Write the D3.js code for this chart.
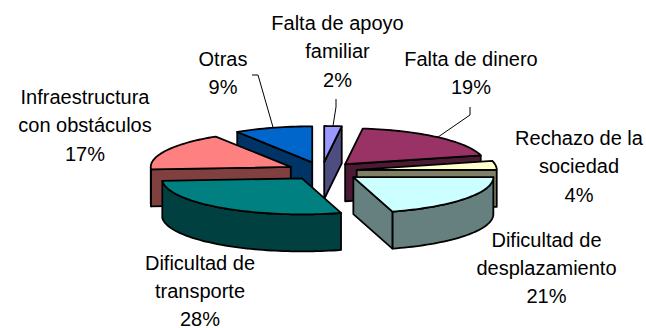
<!DOCTYPE html>
<html><head><meta charset="utf-8">
<script src="https://cdn.jsdelivr.net/npm/d3@7"></script>
<style>html,body{margin:0;padding:0;background:#fff}svg{display:block}text{font-family:"Liberation Sans",Arial,sans-serif;font-size:20px;fill:#000}</style>
</head><body><svg id="c" width="646" height="328"></svg>
<script>
const categories=["Falta de dinero","Rechazo de la sociedad","Dificultad de desplazamiento","Dificultad de transporte","Infraestructura con obstáculos","Otras","Falta de apoyo familiar"];
const values=[19,4,20.5,28.4,17.1,9,2];
const topColors=["#993366","#FFFFCC","#CCFFFF","#008080","#FF8080","#0066CC","#9999FF"];
const sideColors=["#4D1A33","#808066","#668080","#004040","#804040","#003366","#4D4D80"];
const labelLines=[["Falta de dinero","19%"],["Rechazo de la","sociedad","4%"],["Dificultad de","desplazamiento","21%"],["Dificultad de","transporte","28%"],["Infraestructura","con obstáculos","17%"],["Otras","9%"],["Falta de apoyo","familiar","2%"]];
const labelCenters=[[471,66],[579,145],[546.5,246.5],[200,269.5],[85,104],[223,66],[337.5,30]];
const lineStep=28.3;
const leaderStarts=[[[470,107],[470,115]],null,null,null,null,[[252,75],[258,75]],[[336,99],[336,107]]];
const explodes=[0.25,0.25,0.28,0.25,0.25,0.25,0.25];

const cx=322,cy=171,rx=140,ry=36,depth=37;
const svg=d3.select("#c");
const start=7.2*Math.PI/180;
const arcs=d3.pie().sort(null).startAngle(start).endAngle(start+2*Math.PI)(values);
const line=d3.line();
const proj=(a,r=1)=>[Math.sin(a)*rx*r,-Math.cos(a)*ry*r];
const slices=arcs.map((d,i)=>{
  const mid=(d.startAngle+d.endAngle)/2,[ex,ey]=proj(mid,explodes[i]);
  const ax=cx+ex,ay=cy+ey;
  const n=Math.max(4,Math.ceil((d.endAngle-d.startAngle)/0.03));
  const arcPts=d3.range(n+1).map(k=>{const a=d.startAngle+(d.endAngle-d.startAngle)*k/n,[x,y]=proj(a);return [ax+x,ay+y];});
  return {i,mid,apex:[ax,ay],arcPts};
});
function ribbon(pts){
  const run=pts.concat(pts.slice().reverse().map(p=>[p[0],p[1]+depth]));
  return line(run)+"Z";
}
function visibleRuns(pts){
  const runs=[];let cur=null;
  for(let k=0;k<pts.length-1;k++){
    if(pts[k+1][0]-pts[k][0]<-1e-6){
      if(!cur){cur=[pts[k]];runs.push(cur);}
      cur.push(pts[k+1]);
    } else cur=null;
  }
  return runs;
}
const drawOrder=[5,6,4,0,1,2,3].map(i=>slices[i]);
drawOrder.forEach(s=>{
  const g=svg.append("g");
  const walls=[[s.apex,s.arcPts[0]],s.arcPts,[s.arcPts[s.arcPts.length-1],s.apex]];
  walls.forEach(w=>visibleRuns(w).forEach(r=>{
    g.append("path").attr("d",ribbon(r)).attr("fill",sideColors[s.i]).attr("stroke","#000").attr("stroke-width",1.8).attr("stroke-linejoin","round");
  }));
  g.append("path").attr("d",line([s.apex,...s.arcPts])+"Z").attr("fill",topColors[s.i]).attr("stroke","#000").attr("stroke-width",1.8).attr("stroke-linejoin","round");
});
slices.forEach(s=>{
  const st=leaderStarts[s.i]; if(!st) return;
  const [x,y]=proj(s.mid);
  svg.append("path").attr("d",line([...st,[s.apex[0]+x,s.apex[1]+y]])).attr("fill","none").attr("stroke","#000").attr("stroke-width",1);
});
labelLines.forEach((ls,i)=>{
  const t=svg.append("text").attr("text-anchor","middle");
  ls.forEach((l,k)=>t.append("tspan").attr("x",labelCenters[i][0]).attr("y",labelCenters[i][1]+k*lineStep).text(l));
});
</script></body></html>
